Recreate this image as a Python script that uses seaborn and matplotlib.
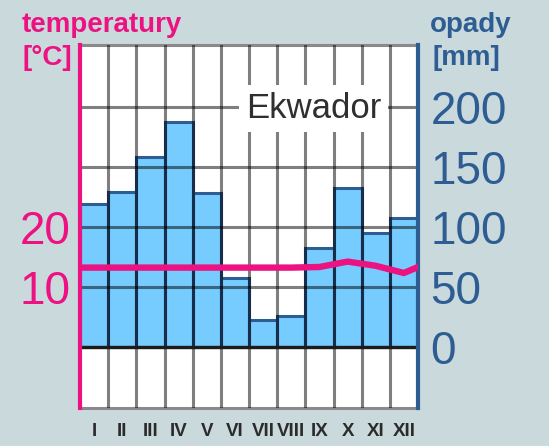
import numpy as np
import pandas as pd
import matplotlib
matplotlib.use('Agg')
import matplotlib.pyplot as plt
import seaborn as sns

miesiace = ['I', 'II', 'III', 'IV', 'V', 'VI', 'VII', 'VIII', 'IX', 'X', 'XI', 'XII']
opady = [119, 129, 158, 187, 128, 57, 22, 26, 82, 132, 95, 107]
temperatury = [13.2, 13.2, 13.2, 13.2, 13.2, 13.2, 13.2, 13.2, 13.3, 14.2, 13.5, 12.3]
temp_brzegi = [13.2, 13.3]  # wartosci na lewej i prawej krawedzi wykresu
ticki_opady = [0, 50, 100, 150, 200]
ticki_temp = [10, 20]

TLO = '#cad9dc'
NIEBIESKI = '#76ccff'
GRANAT = '#2e5d93'
ROZ = '#ec1282'

sns.set_style('white')
plt.rcParams['font.family'] = ['Liberation Sans Narrow', 'Liberation Sans', 'DejaVu Sans']

df = pd.DataFrame({'miesiac': miesiace, 'opady': opady})

fig = plt.figure(figsize=(5.49, 4.46), dpi=100, facecolor=TLO)
ax = fig.add_axes([80 / 549, 38 / 446, 338 / 549, 363 / 446])
ax.set_facecolor('white')

sns.barplot(data=df, x='miesiac', y='opady', color=NIEBIESKI, width=1.0,
            saturation=1, edgecolor=GRANAT, linewidth=2.2, ax=ax, zorder=1)

ax_t = ax.twinx()
x_linii = np.r_[-0.5, np.arange(len(miesiace)), len(miesiace) - 0.5]
y_linii = np.r_[temp_brzegi[0], temperatury, temp_brzegi[1]]
sns.lineplot(x=x_linii, y=y_linii, color=ROZ, linewidth=4.6, ax=ax_t, zorder=5)

ymin, ymax = -51, 251.5
ax.set_ylim(ymin, ymax)
ax_t.set_ylim(ymin / 5, ymax / 5)
ax.set_xlim(-0.5, len(miesiace) - 0.5)

# siatka nad slupkami
ax.set_axisbelow(False)
ax.set_yticks(ticki_opady)
ax.set_xticks(np.arange(len(miesiace)))
ax.set_xticklabels(miesiace)
ax.set_xticks(np.arange(0.5, len(miesiace) - 0.5, 1), minor=True)
ax.grid(which='major', axis='y', color='black', alpha=0.5, linewidth=2.2)
ax.grid(which='minor', axis='x', color='black', alpha=0.5, linewidth=2.2)
ax.grid(which='major', axis='x', visible=False)
ax.axhline(0, color='#1c1c1c', linewidth=2.4, zorder=4)

ax.yaxis.tick_right()
ax.tick_params(axis='y', which='both', length=0, pad=9, labelsize=33, labelcolor=GRANAT)
ax.tick_params(axis='x', which='both', length=0, pad=11, labelsize=13.5, labelcolor='#2b2b2b')
for lab in ax.get_xticklabels():
    lab.set_fontweight('bold')
    lab.set_family(['Liberation Sans', 'DejaVu Sans'])
ax.set_xlabel('')
ax.set_ylabel('')

ax_t.yaxis.tick_left()
ax_t.set_yticks(ticki_temp)
ax_t.tick_params(axis='y', length=0, pad=7, labelsize=33, labelcolor=ROZ)
ax_t.set_xlabel('')
ax_t.set_ylabel('')

for s in ['top', 'bottom']:
    ax.spines[s].set_color('#8a8a8a')
    ax.spines[s].set_linewidth(2.2)
    ax_t.spines[s].set_visible(False)
ax.spines['left'].set_visible(False)
ax.spines['right'].set_visible(False)
ax_t.spines['left'].set_color(ROZ)
ax_t.spines['left'].set_linewidth(3)
ax_t.spines['right'].set_color(GRANAT)
ax_t.spines['right'].set_linewidth(3)

ax.text(7.8, 191, 'Ekwador', ha='center', va='baseline', fontsize=25, color='#2f2f2f',
        family=['Liberation Sans Narrow', 'Liberation Sans'],
        bbox=dict(boxstyle='square,pad=0.2', fc='white', ec='none'), zorder=6)

tyt = dict(fontsize=20, fontweight='bold', family=['Liberation Sans', 'DejaVu Sans'], va='baseline')
fig.text(22 / 549, 1 - 32 / 446, 'temperatury', color=ROZ, **tyt)
fig.text(22 / 549, 1 - 65 / 446, '[°C]', color=ROZ, **tyt)
fig.text(430 / 549, 1 - 32 / 446, 'opady', color=GRANAT, **tyt)
fig.text(432 / 549, 1 - 65 / 446, '[mm]', color=GRANAT, **tyt)

fig.savefig('out.png', dpi=100, facecolor=TLO)
